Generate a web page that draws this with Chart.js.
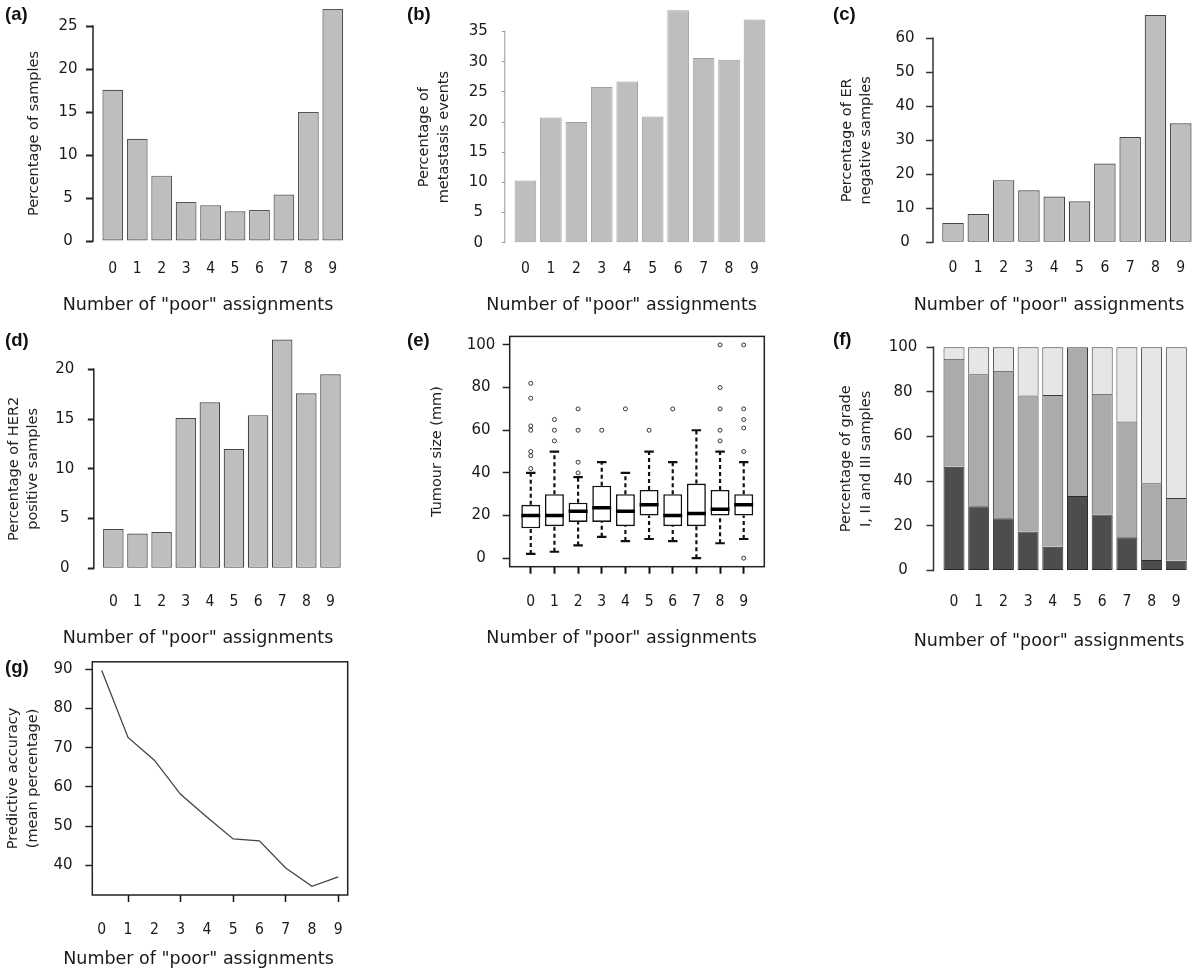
<!DOCTYPE html>
<html><head><meta charset="utf-8">
<script src="https://cdn.jsdelivr.net/npm/chart.js@4.4.1/dist/chart.umd.min.js"></script>
<style>
html,body{margin:0;padding:0;background:#fff;overflow:hidden;width:1200px;height:979px;}
canvas{position:absolute;}
</style></head><body>
<canvas id="pa"></canvas><canvas id="pb"></canvas><canvas id="pc"></canvas>
<canvas id="pd"></canvas><canvas id="pe"></canvas><canvas id="pf"></canvas>
<canvas id="pg"></canvas>
<script>
// ---------------- data ----------------
const categories = ['0','1','2','3','4','5','6','7','8','9'];
const xTitle = 'Number of "poor" assignments';

const pctSamples    = [17.6, 11.9, 7.6, 4.55, 4.15, 3.45, 3.6, 5.4, 15.0, 27.0];
const pctMetastasis = [10.3, 20.75, 20.0, 25.8, 26.7, 20.9, 38.5, 30.6, 30.3, 37.0];
const pctERneg      = [5.7, 8.3, 18.3, 15.3, 13.5, 12.1, 23.2, 31.0, 66.9, 35.0];
const pctHER2pos    = [3.95, 3.5, 3.65, 15.1, 16.7, 12.0, 15.4, 23.0, 17.6, 19.5];

const tumourLow    = [2, 3, 6, 10, 8, 9, 8, 0, 7, 9];
const tumourQ1     = [14, 15, 17, 17, 15, 20, 15, 15, 20, 20];
const tumourMedian = [20, 20, 22, 23.6, 22, 25, 20, 21, 23, 25];
const tumourQ3     = [25, 30, 26, 34, 30, 32, 30, 35, 32, 30];
const tumourHigh   = [40, 50, 38, 45, 40, 50, 45, 60, 50, 45];
const tumourOutliers = [[82,75,62,60,50,48,42],[65,60,55],[70,60,45,40],[60],[70],[60],[70],[],[100,80,70,60,55],[100,70,65,61,50,0]];

const gradeI   = [46.4, 28.8, 23.4, 17.4, 10.6, 33.3, 25.1, 14.9, 4.7, 4.4];
const gradeII  = [48.4, 59.1, 66.0, 60.9, 68.0, 66.7, 54.0, 51.8, 34.4, 28.1];
const gradeIII = [5.2, 12.1, 10.6, 21.7, 21.4, 0.0, 20.9, 33.3, 60.9, 67.5];

const accuracy = [89.7, 72.6, 66.8, 58.1, 52.3, 46.7, 46.2, 39.3, 34.6, 37.0];

const ticksA = [0,5,10,15,20,25];
const ticksB = [0,5,10,15,20,25,30,35];
const ticksC = [0,10,20,30,40,50,60];
const ticksD = [0,5,10,15,20];
const ticksE = [0,20,40,60,80,100];
const ticksF = [0,20,40,60,80,100];
const ticksG = [40,50,60,70,80,90];

// ---------------- styling helpers ----------------
const SANS = "'DejaVu Sans', 'Bitstream Vera Sans', sans-serif";
const COND = "'DejaVu Sans Condensed', 'Liberation Sans Narrow', 'DejaVu Sans', sans-serif";
const BOLD = "'Liberation Sans', Arial, sans-serif";

const rstyle = {
  id: 'rstyle',
  afterDraw(chart, args, o) {
    const ctx = chart.ctx, a = chart.chartArea;
    ctx.save();
    if (o.frame) {
      ctx.strokeStyle = o.frame.color; ctx.lineWidth = o.frame.width;
      ctx.strokeRect(a.left, a.top, a.right - a.left, a.bottom - a.top);
    }
    if (o.axisLine) {
      const ys = chart.scales.y, t = ys.ticks;
      const y0 = ys.getPixelForValue(t[0].value), y1 = ys.getPixelForValue(t[t.length-1].value);
      ctx.strokeStyle = o.axisLine.color; ctx.lineWidth = o.axisLine.width;
      ctx.beginPath(); ctx.moveTo(a.left, y0 + o.axisLine.width/2); ctx.lineTo(a.left, y1 - o.axisLine.width/2); ctx.stroke();
    }
    (o.texts || []).forEach(t => {
      ctx.font = t.font; ctx.fillStyle = t.color; ctx.textAlign = t.align; ctx.textBaseline = 'middle';
      ctx.fillText(t.text, t.x, t.y);
    });
    ctx.restore();
  }
};

function makeChart(id, cfg) {
  const cv = document.getElementById(id);
  const box = cfg.box, area = cfg.area;
  cv.width = box.w; cv.height = box.h;
  cv.style.left = box.x + 'px'; cv.style.top = box.y + 'px';
  const yW = area.l - box.x, xH = box.y + box.h - area.b;
  const titleSize = 14.5, titleLH = 1.35;
  const yTitlePad = cfg.yTitleCenter - box.x - titleSize * titleLH / 2;
  const texts = [
    {text: cfg.letter, x: cfg.letterPos[0] - box.x, y: cfg.letterPos[1] - box.y, font: 'bold 18.5px ' + BOLD, align: 'left', color: '#111'},
    {text: xTitle, x: cfg.xTitlePos[0] - box.x, y: cfg.xTitlePos[1] - box.y, font: '17.5px ' + SANS, align: 'center', color: '#1a1a1a'}
  ];
  return new Chart(cv, {
    type: 'bar',
    data: {datasets: cfg.datasets},
    plugins: [rstyle],
    options: {
      responsive: false, animation: false, events: [],
      layout: {autoPadding: false, padding: {left: 0, bottom: 0, top: area.t - box.y, right: box.x + box.w - area.r}},
      plugins: {legend: {display: false}, tooltip: {enabled: false},
        rstyle: {texts: texts, frame: cfg.frame || null, axisLine: cfg.axisLine || null}},
      scales: {
        x: {type: 'linear', min: cfg.x.min, max: cfg.x.max, offset: false, stacked: !!cfg.stacked,
          afterBuildTicks: s => { s.ticks = categories.map((c, i) => ({value: i})); },
          afterFit: s => { s.height = xH; },
          ticks: {autoSkip: false, maxRotation: 0, minRotation: 0, padding: cfg.x.pad, color: '#1a1a1a',
            font: {family: COND, size: 15.5, lineHeight: 1.2}, callback: (v, i) => categories[i]},
          grid: cfg.x.grid || {display: false, drawTicks: false, offset: false},
          border: {display: false}},
        y: {type: 'linear', min: cfg.y.min, max: cfg.y.max, stacked: !!cfg.stacked,
          afterBuildTicks: s => { s.ticks = cfg.y.ticks.map(v => ({value: v})); },
          afterFit: s => { s.width = yW; },
          ticks: {padding: cfg.y.pad, crossAlign: 'center', color: '#1a1a1a', font: {family: SANS, size: 15}, callback: v => String(v)},
          grid: {display: true, drawOnChartArea: false, drawTicks: true, tickLength: cfg.y.tickLen,
            tickWidth: cfg.y.tickWidth, tickColor: cfg.y.tickColor},
          border: {display: false},
          title: {display: true, text: cfg.yTitle, color: '#222',
            font: {family: SANS, size: titleSize, lineHeight: titleLH}, padding: {top: yTitlePad, bottom: 0}}}
      }
    }
  });
}

function barSet(vals, fill, border, bw) {
  return [{type: 'bar', label: 'value', data: vals.map((v, i) => ({x: i, y: v})),
    backgroundColor: fill, borderColor: border, borderWidth: bw, borderSkipped: false,
    barPercentage: 0.85, categoryPercentage: 1, clip: false}];
}

// ---------------- (a) ----------------
makeChart('pa', {
  box: {x: 0, y: 0, w: 400, h: 320}, area: {l: 93, t: 16.4, r: 352.6, b: 249.6},
  x: {min: -0.81, max: 9.81, pad: 9.8},
  y: {min: -1, max: 26, ticks: ticksA, pad: 8.5, tickLen: 7, tickWidth: 2, tickColor: '#222'},
  axisLine: {color: '#222', width: 1.5},
  yTitle: 'Percentage of samples', yTitleCenter: 34,
  letter: '(a)', letterPos: [5, 15], xTitlePos: [198, 305],
  datasets: barSet(pctSamples, '#bebebe', '#555', 1.2)
});
// ---------------- (b) ----------------
makeChart('pb', {
  box: {x: 400, y: 0, w: 400, h: 320}, area: {l: 504.8, t: 22.2, r: 775.1, b: 251.2},
  x: {min: -0.81, max: 9.81, pad: 8.0},
  y: {min: -1.4, max: 36.4, ticks: ticksB, pad: 14.0, tickLen: 3, tickWidth: 1, tickColor: '#999'},
  axisLine: {color: '#999', width: 1},
  yTitle: ['Percentage of', 'metastasis events'], yTitleCenter: 424.5,
  letter: '(b)', letterPos: [407, 15], xTitlePos: [621.6, 305],
  datasets: barSet(pctMetastasis, '#bebebe', '#a0a0a0', 1)
});
// ---------------- (c) ----------------
makeChart('pc', {
  box: {x: 800, y: 0, w: 400, h: 320}, area: {l: 933, t: 30.2, r: 1198, b: 250.5},
  x: {min: -0.79, max: 9.68, pad: 8.5},
  y: {min: -2.4, max: 62.4, ticks: ticksC, pad: 11.5, tickLen: 7, tickWidth: 1.5, tickColor: '#333'},
  axisLine: {color: '#333', width: 1.5},
  yTitle: ['Percentage of ER', 'negative samples'], yTitleCenter: 847,
  letter: '(c)', letterPos: [833, 15], xTitlePos: [1049, 305],
  datasets: barSet(pctERneg, '#bebebe', '#444', 1.2)
});
// ---------------- (d) ----------------
makeChart('pd', {
  box: {x: 0, y: 320, w: 400, h: 335}, area: {l: 93.8, t: 361.4, r: 350, b: 576.3},
  x: {min: -0.81, max: 9.81, pad: 16.1},
  y: {min: -0.8, max: 20.8, ticks: ticksD, pad: 13.5, tickLen: 6, tickWidth: 2, tickColor: '#222'},
  axisLine: {color: '#222', width: 1.5},
  yTitle: ['Percentage of HER2', 'positive samples'], yTitleCenter: 14,
  letter: '(d)', letterPos: [5, 340.5], xTitlePos: [198, 638],
  datasets: barSet(pctHER2pos, '#bebebe', '#444', 1.2)
});
// ---------------- (e) boxplot ----------------
(function () {
  const whisk = [], med = [], caps = [], outl = [];
  categories.forEach((c, i) => {
    whisk.push({x: i, y: tumourLow[i]}, {x: i, y: tumourQ1[i]}, {x: i, y: null},
               {x: i, y: tumourQ3[i]}, {x: i, y: tumourHigh[i]}, {x: i, y: null});
    med.push({x: i - 0.4, y: tumourMedian[i]}, {x: i + 0.4, y: tumourMedian[i]}, {x: i, y: null});
    caps.push({x: i - 0.2, y: tumourHigh[i]}, {x: i + 0.2, y: tumourHigh[i]}, {x: i, y: null},
              {x: i - 0.2, y: tumourLow[i]}, {x: i + 0.2, y: tumourLow[i]}, {x: i, y: null});
    tumourOutliers[i].forEach(v => outl.push({x: i, y: v}));
  });
  makeChart('pe', {
    box: {x: 400, y: 320, w: 400, h: 335}, area: {l: 509.7, t: 334, r: 764.3, b: 566.7},
    x: {min: -0.89, max: 9.87, pad: 18.7,
        grid: {display: true, drawOnChartArea: false, drawTicks: true, tickLength: 7, tickWidth: 2, tickColor: '#111', offset: false}},
    y: {min: -4, max: 104, ticks: ticksE, pad: 7.4, tickLen: 7, tickWidth: 1.5, tickColor: '#222'},
    frame: {color: '#222', width: 1.5},
    yTitle: 'Tumour size (mm)', yTitleCenter: 437.5,
    letter: '(e)', letterPos: [407, 340.5], xTitlePos: [621.6, 638],
    datasets: [
      {type: 'line', label: 'whiskers', data: whisk, borderColor: '#111', borderWidth: 2.2, borderDash: [4, 3],
       pointRadius: 0, spanGaps: false, order: 4, clip: false},
      {type: 'bar', label: 'IQR', data: categories.map((c, i) => ({x: i, y: [tumourQ1[i], tumourQ3[i]]})),
       backgroundColor: '#fff', borderColor: '#111', borderWidth: 1.6, borderSkipped: false,
       barPercentage: 0.8, categoryPercentage: 1, order: 3},
      {type: 'line', label: 'median', data: med, borderColor: '#000', borderWidth: 3.5, pointRadius: 0, spanGaps: false, order: 1},
      {type: 'line', label: 'caps', data: caps, borderColor: '#111', borderWidth: 2.2, pointRadius: 0, spanGaps: false, order: 2},
      {type: 'scatter', label: 'outliers', data: outl, pointRadius: 2, pointBorderWidth: 1,
       pointBorderColor: '#333', pointBackgroundColor: 'rgba(0,0,0,0)', showLine: false, order: 0, clip: false}
    ]
  });
})();
// ---------------- (f) stacked ----------------
makeChart('pf', {
  box: {x: 800, y: 320, w: 400, h: 335}, area: {l: 933.5, t: 325.6, r: 1196.3, b: 579.4},
  x: {min: -0.83, max: 9.81, pad: 13.0}, stacked: true,
  y: {min: -4, max: 104, ticks: ticksF, pad: 9.2, tickLen: 7, tickWidth: 1.5, tickColor: '#333'},
  axisLine: {color: '#333', width: 1.5},
  yTitle: ['Percentage of grade', 'I, II and III samples'], yTitleCenter: 846.5,
  letter: '(f)', letterPos: [833, 339.5], xTitlePos: [1049, 641],
  datasets: [
    {type: 'bar', label: 'Grade I', data: gradeI.map((v, i) => ({x: i, y: v})), backgroundColor: '#4d4d4d',
     borderColor: '#2a2a2a', borderWidth: 1, borderSkipped: false, barPercentage: 0.85, categoryPercentage: 1},
    {type: 'bar', label: 'Grade II', data: gradeII.map((v, i) => ({x: i, y: v})), backgroundColor: '#ababab',
     borderColor: '#3a3a3a', borderWidth: {top: 1, left: 1, right: 1, bottom: 0}, borderSkipped: false, barPercentage: 0.85, categoryPercentage: 1},
    {type: 'bar', label: 'Grade III', data: gradeIII.map((v, i) => ({x: i, y: v})), backgroundColor: '#e6e6e6',
     borderColor: '#3a3a3a', borderWidth: {top: 1, left: 1, right: 1, bottom: 0}, borderSkipped: false, barPercentage: 0.85, categoryPercentage: 1}
  ]
});
// ---------------- (g) line ----------------
makeChart('pg', {
  box: {x: 0, y: 640, w: 400, h: 339}, area: {l: 92.3, t: 661.7, r: 347.7, b: 895},
  x: {min: -0.36, max: 9.36, pad: 18.7,
      grid: {display: true, drawOnChartArea: false, drawTicks: true, tickLength: 7, tickWidth: 1.5, offset: false,
             tickColor: c => (c.tick && c.tick.value % 2 === 1) ? '#111' : 'rgba(0,0,0,0)'}},
  y: {min: 32.4, max: 91.9, ticks: ticksG, pad: 12.8, tickLen: 7, tickWidth: 1.5, tickColor: '#222'},
  frame: {color: '#222', width: 1.5},
  yTitle: ['Predictive accuracy', '(mean percentage)'], yTitleCenter: 13.5,
  letter: '(g)', letterPos: [5, 668], xTitlePos: [198.5, 959],
  datasets: [{type: 'line', label: 'accuracy', data: accuracy.map((v, i) => ({x: i, y: v})),
    borderColor: '#444', borderWidth: 1.3, pointRadius: 0, tension: 0, fill: false}]
});
</script>
</body></html>
